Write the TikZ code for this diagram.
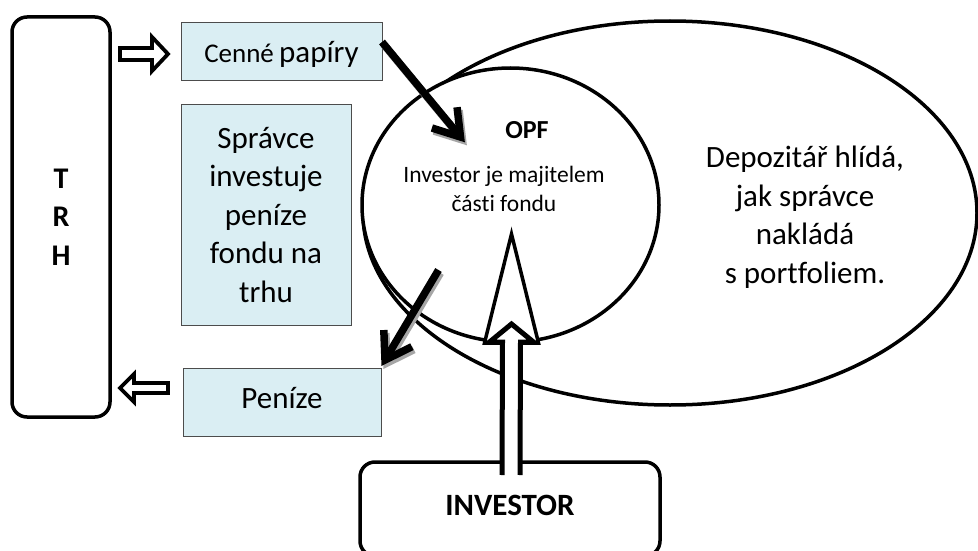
\documentclass[tikz,border=0pt]{standalone}
\usepackage{fontspec}
\setmainfont{Carlito}[Ligatures=NoCommon]
\usepackage{tikz}
\usetikzlibrary{calc, shapes.geometric}

\definecolor{boxblue}{HTML}{DAEEF3}
\definecolor{shadowgray}{HTML}{A6A6A6}

% hollow block arrow: tail, tip, shaft half width, head half width, head length
\newcommand{\hollowarrow}[5]{%
  \coordinate (hb) at ($(#2)!#5!(#1)$);
  \draw[hollow] ($(#1)!#3!90:(#2)$) -- ($(hb)!#3!-90:(#1)$) -- ($(hb)!#4!-90:(#1)$) -- (#2)
    -- ($(hb)!#4!90:(#1)$) -- ($(hb)!#3!90:(#1)$) -- ($(#1)!#3!-90:(#2)$) -- cycle;
}
% thick open arrow: start, tip, colour
\newcommand{\fatarrow}[3]{%
  \draw[fat, #3] (#1) -- (#2);
  \draw[fat, #3] ($(#2)!30pt!33:(#1)$) -- (#2) -- ($(#2)!30pt!-33:(#1)$);
}

\begin{document}
\begin{tikzpicture}[x=1pt, y=-1pt,
    box/.style={draw=black!70, line width=1pt, fill=boxblue, inner sep=0pt, outer sep=0pt},
    rbox/.style={draw, line width=3.5pt, rounded corners=15pt, inner sep=0pt, outer sep=0pt},
    oval/.style={draw, ellipse, line width=3.5pt, fill=white, inner sep=0pt, outer sep=0pt},
    hollow/.style={line width=3.8pt, fill=white},
    fat/.style={line width=7.5pt},
    big/.style={font=\fontsize{31}{38.5}\selectfont, align=center}]
    \useasboundingbox (0,0) rectangle (978,551);

    % Market and the boxes
    \node[rbox, minimum width=98pt, minimum height=400pt, align=center,
        font=\bfseries\fontsize{30}{38.5}\selectfont] (trh) at (61,217) {T\\R\\H};
    \node[box, minimum width=201pt, minimum height=58pt, text height=22pt, text depth=0pt] (cenne) at (281.5,52)
        {{\fontsize{27}{30}\selectfont Cenné}\hspace{3pt} {\fontsize{31}{36}\selectfont papíry}};
    \node[box, big, minimum width=170pt, minimum height=220pt] (spravce) at (266,215)
        {Správce\\investuje\\peníze\\fondu na\\trhu};
    \node[box, big, minimum width=198pt, minimum height=68pt, text height=12pt, text depth=0pt] (penize) at (282,402) {Peníze};

    % Ellipses
    \node[oval, minimum width=614pt, minimum height=384pt] (depo) at (670,213) {};
    \node[oval, minimum width=297pt, minimum height=274pt] (opf) at (510.5,205) {};
    \node[big] (depotext) at (805,217) {Depozitář hlídá,\\jak správce\\nakládá\\s portfoliem.};
    \node[font=\bfseries\fontsize{26}{30}\selectfont] (opftitle) at (527,130) {OPF};
    \node[font=\fontsize{23.5}{29}\selectfont, align=center] (opftext) at (504,189)
        {Investor je majitelem\\části fondu};

    % Investor
    \node[rbox, minimum width=300pt, minimum height=94pt, text height=12pt, text depth=0pt,
        font=\bfseries\fontsize{31}{36}\selectfont] (investor) at (510,509) {INVESTOR};

    % Hollow arrows to and from the market
    \coordinate (h1) at ($(trh.east |- cenne.west)+(10,2)$);
    \coordinate (h1e) at ($(cenne.west)+(-13,2)$);
    \hollowarrow{h1}{h1e}{6pt}{17pt}{16pt}
    \coordinate (h2) at ($(penize.west)+(-15,-14)$);
    \coordinate (h2e) at ($(trh.east |- penize.west)+(10,-14)$);
    \hollowarrow{h2}{h2e}{5pt}{14pt}{14pt}

    % Investor -> OPF
    \draw[line width=3.5pt, fill=white] ($(opf)+(1,29)$) -- ($(opf.south)+(-26,1)$)
        -- ($(opf.south)+(28,1)$) -- cycle;
    \coordinate (ib) at ($(investor.north)+(1,13)$);
    \coordinate (it) at ($(opf.south)+(1,-18)$);
    \fill[white] ($(ib)+(-9,0)$) -- ($(it)+(-9,18)$) -- ($(it)+(-22,18)$) -- (it)
        -- ($(it)+(22,18)$) -- ($(it)+(9,18)$) -- ($(ib)+(9,0)$) -- cycle;
    \draw[line width=5pt] ($(ib)+(-9,0)$) -- ($(it)+(-9,18)$) -- ($(it)+(-22,18)$) -- (it)
        -- ($(it)+(22,18)$) -- ($(it)+(9,18)$) -- ($(ib)+(9,0)$);

    % Thick arrows with shadow
    \coordinate (a1) at ($(cenne.east)+(0,-10)$);
    \coordinate (a1e) at ($(opf)+(-50,-68)$);
    \coordinate (a1s) at ($(a1)+(2,3)$);
    \coordinate (a1es) at ($(a1e)+(2,3)$);
    \fatarrow{a1s}{a1es}{shadowgray}
    \fatarrow{a1}{a1e}{black}
    \coordinate (a2) at ($(opf)+(-72,65)$);
    \coordinate (a2e) at ($(penize.north east)+(4,-8)$);
    \coordinate (a2s) at ($(a2)+(2,3)$);
    \coordinate (a2es) at ($(a2e)+(2,3)$);
    \fatarrow{a2s}{a2es}{shadowgray}
    \fatarrow{a2}{a2e}{black}
\end{tikzpicture}
\end{document}
